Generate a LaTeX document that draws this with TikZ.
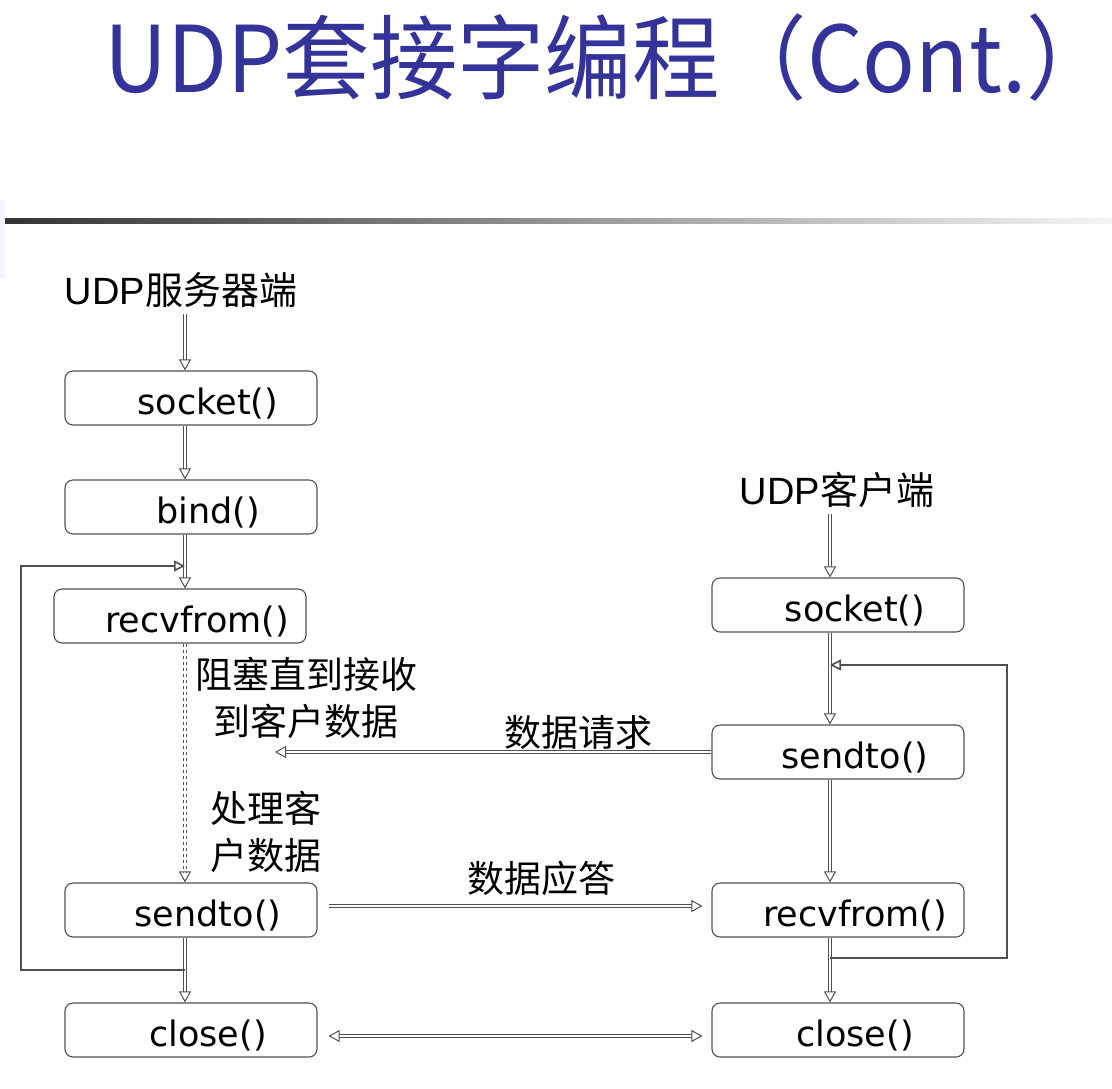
\documentclass[tikz,border=0pt]{standalone}
\usepackage{fontspec}
\setmainfont{Liberation Sans}
\newfontfamily\cjk{Noto Sans CJK SC}
\newfontfamily\titlefont[FakeStretch=0.95]{Noto Sans CJK SC}
\newfontfamily\fnfont{DejaVu Sans}
\usetikzlibrary{arrows.meta}
\definecolor{titleblue}{RGB}{51,51,153}
\definecolor{linegray}{RGB}{80,80,80}
\begin{document}
\begin{tikzpicture}[x=1pt,y=-1pt,
  fnbox/.style={draw=linegray,line width=1.1pt,rounded corners=8pt,minimum width=252pt,minimum height=54pt,inner sep=0pt,
    text height=33pt,text depth=1pt,
    font=\fnfont\fontsize{35}{40}\selectfont,execute at begin node={\hspace*{34pt}}},
  lbl/.style={inner sep=2pt,font=\fontsize{38}{46}\selectfont},
  note/.style={inner sep=0pt,font=\cjk\fontsize{37}{47}\selectfont},
  flow/.style={draw=linegray,double=white,double distance=1.5pt,line width=1pt,-{Triangle[open,length=11pt,width=12pt]}},
  wait/.style={flow,dashed},
  back/.style={draw=linegray,line width=1.6pt,-{Triangle[open,length=11pt,width=11pt]}}]
\useasboundingbox (0,0) rectangle (1112,1088);
\node[font=\titlefont\fontsize{92}{96}\selectfont,text=titleblue,inner sep=0pt,anchor=west] (title) at (104,58) {UDP套接字编程（Cont.）\kern-0.5em};
\shade[left color=black!80,right color=black!4] (0,218) rectangle (1112,223);
\fill[blue!4] (0,200) rectangle (5,278);
\coordinate (lx) at (185,0);
\coordinate (rx) at (830,0);
\node[lbl] (srvlabel) at (181,290) {UDP{\cjk 服务器端}};
\node[fnbox] (ssock) at (191,398) {socket()};
\node[fnbox] (sbind) at (191,507) {bind()};
\node[fnbox] (srecv) at (180,616) {recvfrom()};
\node[fnbox] (ssend) at (191,910) {sendto()};
\node[fnbox] (sclose) at (191,1030) {close()};
\node[lbl] (clilabel) at (837,490) {UDP{\cjk 客户端}};
\node[fnbox] (csock) at (838,605) {socket()};
\node[fnbox] (csend) at (838,752) {sendto()};
\node[fnbox] (crecv) at (838,910) {recvfrom()};
\node[fnbox] (cclose) at (838,1030) {close()};
\node[note,align=center] (block) at (306,698) {阻塞直到接收\\到客户数据};
\node[note,align=left] (proc) at (266,832) {处理客\\户数据};
\node[note] (req) at (578,732) {数据请求};
\node[note] (ack) at (541,878) {数据应答};
\coordinate (sjoin) at (185,970);
\coordinate (sback) at (185,566);
\coordinate (sleft) at (21,0);
\coordinate (cjoin) at (830,958);
\coordinate (cback) at (830,665);
\coordinate (cright) at (1007,0);
\coordinate (reqend) at (275,752);
\draw[flow,shorten <=4pt] (srvlabel.south -| lx) -- (ssock.north -| lx);
\draw[flow] (ssock.south -| lx) -- (sbind.north -| lx);
\draw[flow] (sbind.south -| lx) -- (srecv.north -| lx);
\draw[wait] (srecv.south -| lx) -- (ssend.north -| lx);
\draw[flow] (ssend.south -| lx) -- (sclose.north -| lx);
\draw[back] (sjoin) -| (sleft |- sback) -- (sback);
\draw[flow,shorten <=4pt] (clilabel.south -| rx) -- (csock.north -| rx);
\draw[flow] (csock.south -| rx) -- (csend.north -| rx);
\draw[flow] (csend.south -| rx) -- (crecv.north -| rx);
\draw[flow] (crecv.south -| rx) -- (cclose.north -| rx);
\draw[back] (cjoin) -| (cright |- cback) -- (cback);
\draw[flow] (csend.west) -- (reqend);
\draw[flow,shorten <=11pt,shorten >=9pt] ([yshift=4pt]ssend.east) -- ([yshift=4pt]crecv.west);
\draw[flow,{Triangle[open,length=11pt,width=12pt]}-{Triangle[open,length=11pt,width=12pt]},shorten <=11pt,shorten >=9pt] ([yshift=-6pt]sclose.east) -- ([yshift=-6pt]cclose.west);
\end{tikzpicture}
\end{document}
